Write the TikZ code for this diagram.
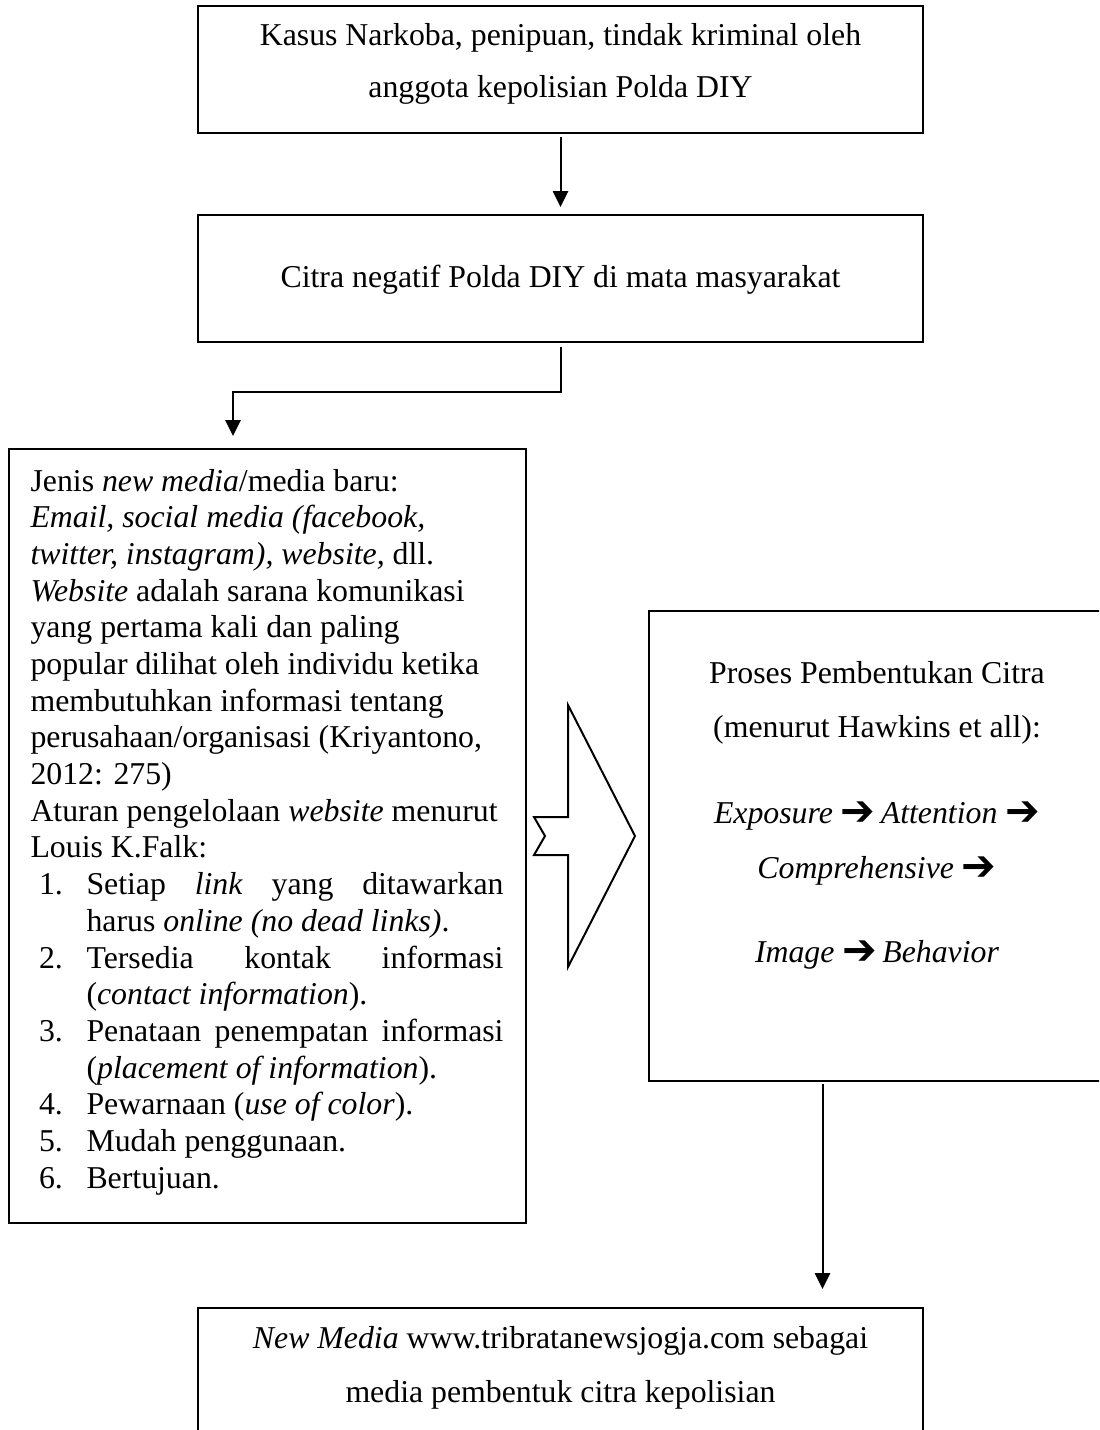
\documentclass[tikz,border=0pt]{standalone}
\usepackage{fontspec}
\usepackage{graphicx}
\setmainfont{Liberation Serif}
\newfontfamily\symfont{DejaVu Sans}
\usetikzlibrary{arrows.meta}
\newdimen\pu \pu=0.3774pt
\newcommand\harr{\raisebox{-0.4pt}{\scalebox{1.3}[1.35]{\symfont ➔}}}
\tikzset{
  boxnode/.style={draw, line width=0.75pt, inner sep=0pt},
  txt/.style={anchor=base, inner sep=0pt},
  arr/.style={line width=0.75pt, -{Triangle[length=6pt,width=5.7pt]}},
  blockarrow/.style={draw, line width=0.75pt, line join=miter, fill=white}
}
\begin{document}
\begin{tikzpicture}[x=0.3774pt,y=-0.3774pt]
\fill[white] (0,0) rectangle (1099,1430);
\useasboundingbox (0,0) rectangle (1099,1430);
\clip (0,0) rectangle (1099,1430);

% boxes
\node[boxnode, minimum width=725*\pu, minimum height=127*\pu] (b1) at (560.5,69.5) {};
\node[boxnode, minimum width=725*\pu, minimum height=127*\pu] (b2) at (560.5,278.5) {};
\node[boxnode, minimum width=517*\pu, minimum height=774*\pu] (b3) at (267.5,836) {};
\node[boxnode, minimum width=461*\pu, minimum height=470*\pu] (b4) at (879.5,846) {};
\node[boxnode, minimum width=725*\pu, minimum height=160*\pu] (b5) at (560.5,1388) {};

% texts
\node[txt] (t1) at (560.5,45) {\parbox[t]{700\pu}{\centering\fontsize{12pt}{20pt}\selectfont
Kasus Narkoba, penipuan, tindak kriminal oleh\\
anggota kepolisian Polda DIY}};

\node[txt] (t2) at (560.5,287) {\fontsize{12pt}{14pt}\selectfont Citra negatif Polda DIY di mata masyarakat};

\node[anchor=base west, inner sep=0pt] (t3) at (30,491) {\parbox[t]{473\pu}{\fontsize{12pt}{13.85pt}\selectfont\raggedright
Jenis \textit{new media}/media baru:\\
\textit{Email, social media (facebook,}\\
\textit{twitter, instagram), website,} dll.\\
\textit{Website} adalah sarana komunikasi\\
yang pertama kali dan paling\\
popular dilihat oleh individu ketika\\
membutuhkan informasi tentang\\
perusahaan/organisasi (Kriyantono,\\
2012: 275)\\
Aturan pengelolaan \textit{website} menurut\\
Louis K.Falk:\\
\hspace*{8.5\pu}\makebox[47.5\pu][l]{1.}\makebox[417\pu][s]{Setiap \textit{link} yang ditawarkan}\\
\hspace*{56\pu}harus \textit{online (no dead links)}.\\
\hspace*{8.5\pu}\makebox[47.5\pu][l]{2.}\makebox[417\pu][s]{Tersedia kontak informasi}\\
\hspace*{56\pu}(\textit{contact information}).\\
\hspace*{8.5\pu}\makebox[47.5\pu][l]{3.}\makebox[417\pu][s]{Penataan penempatan informasi}\\
\hspace*{56\pu}(\textit{placement of information}).\\
\hspace*{8.5\pu}\makebox[47.5\pu][l]{4.}Pewarnaan (\textit{use of color}).\\
\hspace*{8.5\pu}\makebox[47.5\pu][l]{5.}Mudah penggunaan.\\
\hspace*{8.5\pu}\makebox[47.5\pu][l]{6.}Bertujuan.}};

\node[txt] (t4) at (877,683) {\parbox[t]{440\pu}{\centering\fontsize{12pt}{20.4pt}\selectfont
Proses Pembentukan Citra\\
(menurut Hawkins et all):\\[12.4pt]
\textit{Exposure} \harr\,\textit{Attention} \harr\\[0.35pt]
\textit{Comprehensive} \harr\\[11.3pt]
\textit{Image} \harr\,\textit{Behavior}}};

\node[txt] (t5) at (560.5,1348) {\parbox[t]{700\pu}{\centering\fontsize{12pt}{20.75pt}\selectfont
\textit{New Media} www.tribratanewsjogja.com sebagai\\
media pembentuk citra kepolisian}};

% block arrow between b3 and b4
\draw[blockarrow] (568,705) -- (635,836) -- (568,967) -- (568,855) -- (534,855)
  -- (545,836) -- (534,817) -- (568,817) -- cycle;

% connectors
\draw[arr, shorten <=3*\pu, shorten >=7*\pu] (b1.south) -- (b2.north);
\coordinate (turn) at (233,392);
\draw[arr, shorten <=4*\pu, shorten >=12*\pu] (b2.south) |- (turn) -- (turn |- b3.north);
\coordinate (c3) at (822.5,1100);
\draw[arr, shorten <=2*\pu, shorten >=18*\pu] (b4.south -| c3) -- (b5.north -| c3);
\end{tikzpicture}
\end{document}
